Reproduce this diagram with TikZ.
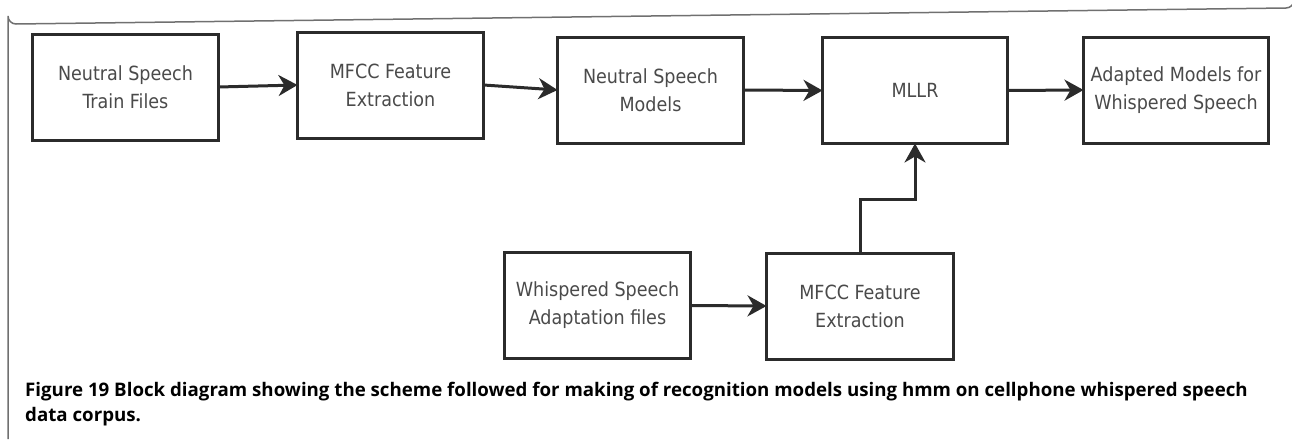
\documentclass[tikz,border=0pt]{standalone}
\usepackage{fontspec}
\setmainfont{DejaVu Sans Condensed}
\newfontfamily\capfont{Open Sans}
\usetikzlibrary{arrows.meta}
\definecolor{boxline}{HTML}{2B2B2B}
\definecolor{boxtext}{HTML}{4A4A4A}
\definecolor{framec}{HTML}{707070}
\tikzset{
  blk/.style={draw=boxline, line width=3pt, fill=white, minimum width=#1, minimum height=106pt,
    inner sep=0pt, outer sep=0pt, align=center, text=boxtext,
    font=\fontsize{19.5pt}{28pt}\selectfont},
  blk/.default=186pt,
  arr/.style={draw=boxline, line width=3pt, -{Stealth[length=19pt,width=21pt,inset=6pt]}},
  captext/.style={anchor=base west, inner sep=0pt, font=\capfont\bfseries\fontsize{18.7pt}{22pt}\selectfont}
}
\begin{document}
\begin{tikzpicture}[x=1pt,y=-1pt]
\useasboundingbox (0,0) rectangle (1292,439);
% outer frame
\draw[framec, line width=1.5pt] (8,439) -- (8,16) arc[start angle=180,end angle=90,radius=8] -- (1286,8) arc[start angle=90,end angle=0,radius=8] -- (1294,439);
% blocks
\node[blk] (b1) at (125.5,87) {Neutral Speech\\Train Files};
\node[blk] (b2) at (390.5,85) {MFCC Feature\\Extraction};
\node[blk] (b3) at (650.5,90) {Neutral Speech\\Models};
\node[blk=185pt] (b4) at (915,90.5) {MLLR};
\node[blk=185pt] (b5) at (1176,90) {Adapted Models for\\Whispered Speech};
\node[blk] (b6) at (597.5,305.5) {Whispered Speech\\Adaptation files};
\node[blk=187pt] (b7) at (860,306) {MFCC Feature\\Extraction};
% connectors
\draw[arr] (b1.east) -- (b2.west);
\draw[arr] (b2.east) -- (b3.west);
\draw[arr] (b3.east) -- (b4.west);
\draw[arr] (b4.east) -- (b5.west);
\draw[arr] (b6.east) -- (b7.west);
\draw[arr] (b7.north) -- ++(0,-54) -| (b4.south);
% caption
\node[captext] (c1) at (25,396) {Figure 19 Block diagram showing the scheme followed for making of recognition models using hmm on cellphone whispered speech};
\node[captext] (c2) at (25,421.5) {data corpus.};
\end{tikzpicture}
\end{document}
